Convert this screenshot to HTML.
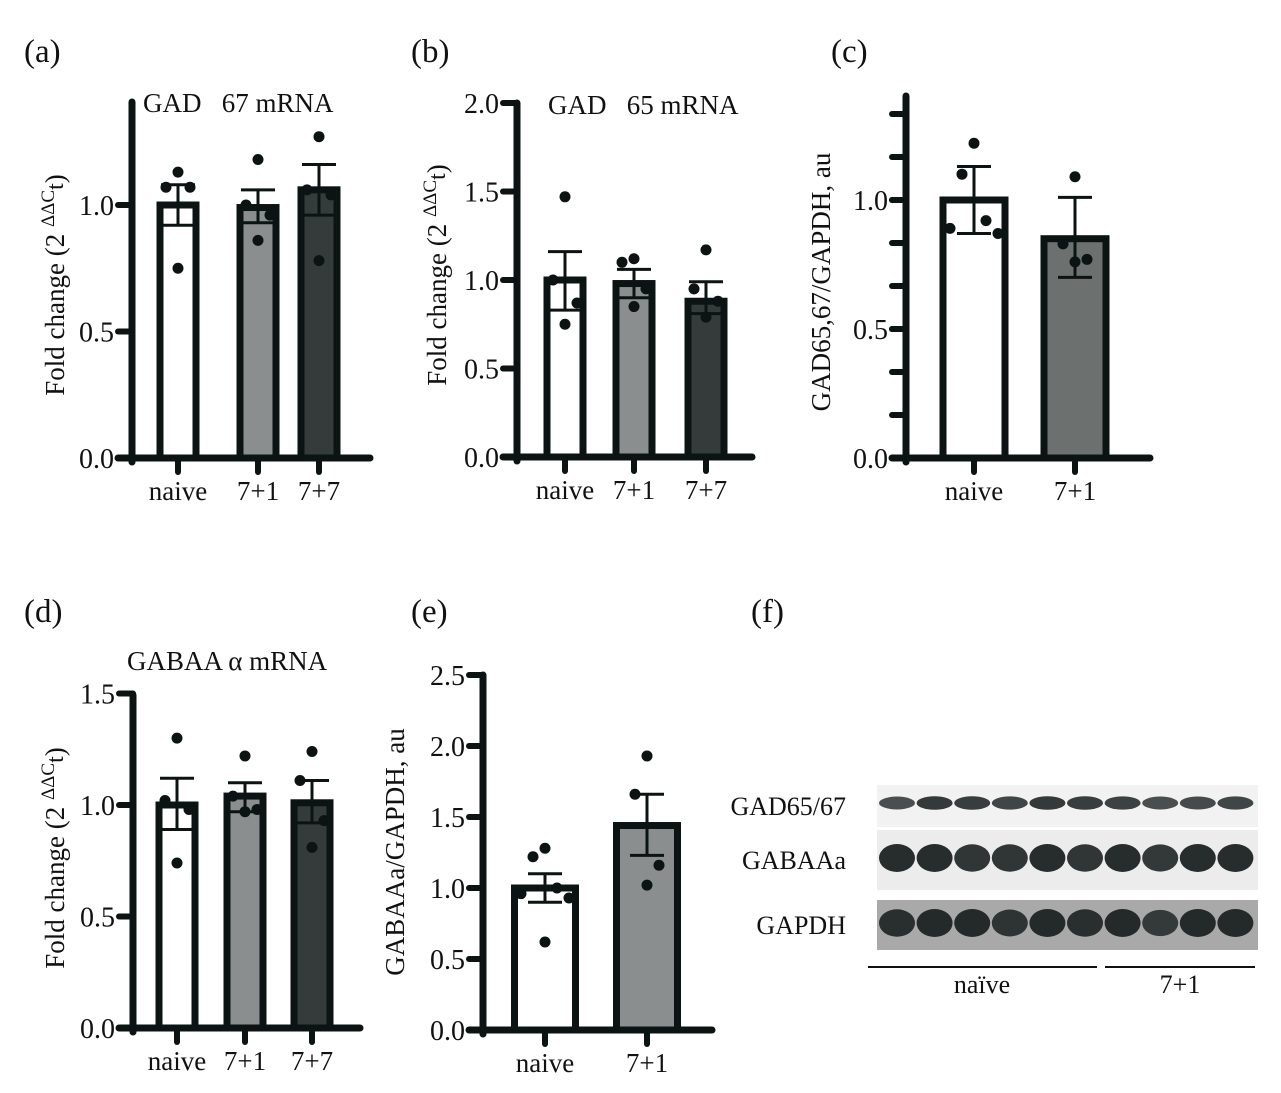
<!DOCTYPE html>
<html><head><meta charset="utf-8"><style>
html,body{margin:0;padding:0;background:#fff;width:1281px;height:1093px;overflow:hidden}
svg{display:block}
text{font-family:"Liberation Serif",serif;fill:#111}
</style></head><body>
<svg id="fig" width="1281" height="1093" viewBox="0 0 1281 1093"></svg>
<script>
// ---- data ----
const catsA=["naive","7+1","7+7"];
const meansA=[1.0,0.99,1.06];
const errLoA=[0.92,0.93,0.96];
const errHiA=[1.08,1.06,1.16];
const ptsA=[[1.13,1.07,1.07,0.75],[1.18,1.0,0.96,0.86],[1.27,1.06,1.04,0.78]];
const ticksA=[0,0.5,1.0];

const catsB=["naive","7+1","7+7"];
const meansB=[1.0,0.98,0.88];
const errLoB=[0.83,0.90,0.81];
const errHiB=[1.16,1.06,0.99];
const ptsB=[[1.47,1.0,0.87,0.75],[1.12,1.1,0.95,0.85],[1.17,0.95,0.88,0.79]];
const ticksB=[0,0.5,1.0,1.5,2.0];

const catsC=["naive","7+1"];
const meansC=[1.0,0.85];
const errLoC=[0.87,0.70];
const errHiC=[1.13,1.01];
const ptsC=[[1.22,1.10,0.92,0.89,0.87],[1.09,0.83,0.77,0.76]];
const ticksC=[0,0.5,1.0];

const catsD=["naive","7+1","7+7"];
const meansD=[1.0,1.04,1.01];
const errLoD=[0.89,0.97,0.92];
const errHiD=[1.12,1.10,1.11];
const ptsD=[[1.30,1.02,0.98,0.74],[1.22,1.04,0.98,0.97],[1.24,1.11,0.93,0.81]];
const ticksD=[0,0.5,1.0,1.5];

const catsE=["naive","7+1"];
const meansE=[1.0,1.44];
const errLoE=[0.90,1.23];
const errHiE=[1.10,1.66];
const ptsE=[[1.28,1.22,1.0,0.96,0.93,0.62],[1.93,1.66,1.16,1.02]];
const ticksE=[0,0.5,1.0,1.5,2.0,2.5];

const NS="http://www.w3.org/2000/svg";
const svg=document.getElementById('fig');
function el(tag,attrs,parent,txt){const e=document.createElementNS(NS,tag);for(const k in attrs)e.setAttribute(k,attrs[k]);if(txt!==undefined)e.textContent=txt;(parent||svg).appendChild(e);return e;}

function panel(cfg){
  const g=el('g',{});
  
  
  const y=v=>cfg.y0-(v-0)*cfg.unit;
  const ink='#0b1412';
  const ya=el('line',{x1:cfg.ax,y1:cfg.y0+4,x2:cfg.ax,y2:cfg.top,stroke:ink,'stroke-width':7,'stroke-linecap':'round'},g);
  
  
  if(cfg.minor){for(let v=cfg.minor;y(v)>cfg.top+5;v+=cfg.minor){el('line',{x1:cfg.ax-14,y1:y(v),x2:cfg.ax,y2:y(v),stroke:ink,'stroke-width':6,'stroke-linecap':'round'},g);}}
  cfg.ticks.forEach(t=>{
    el('line',{x1:cfg.ax-14,y1:y(t),x2:cfg.ax,y2:y(t),stroke:ink,'stroke-width':6,'stroke-linecap':'round'},g);
    const tl=el('text',{x:cfg.ax-18,y:y(t)+10,'text-anchor':'end','font-size':28},g,t.toFixed(1));
    
    
  });
  cfg.cats.forEach((c,i)=>{
    const cx=cfg.cx[i],w=cfg.bw;
    const b=el('rect',{x:cx-w/2,y:y(cfg.means[i]),width:w,height:cfg.y0-y(cfg.means[i]),fill:cfg.fills[i],stroke:ink,'stroke-width':7},g);
    
    
    const eb=el('path',{d:`M${cx},${y(cfg.lo[i])}V${y(cfg.hi[i])}M${cx-17},${y(cfg.lo[i])}h34M${cx-17},${y(cfg.hi[i])}h34`,stroke:ink,'stroke-width':3,fill:'none'},g);
    
    
    const offs=cfg.pts[i].length>=5?[0,-12,12,-24,24,0]:[0,-12,12,0];
    cfg.pts[i].forEach((p,j)=>{
      const d=el('circle',{cx:cx+offs[j%offs.length],cy:y(p),r:5.5,fill:ink},g);
      
      
    });
    el('line',{x1:cx,y1:cfg.y0,x2:cx,y2:cfg.y0+14,stroke:ink,'stroke-width':6,'stroke-linecap':'round'},g);
    const xl=el('text',{x:cx,y:cfg.y0+42,'text-anchor':'middle','font-size':27},g,c);
    
    
  });
  const xa=el('line',{x1:cfg.ax-14,y1:cfg.y0,x2:cfg.xend,y2:cfg.y0,stroke:ink,'stroke-width':7,'stroke-linecap':'round'},g);
  
  
  const yt=el('text',{x:0,y:0,'text-anchor':'middle','font-size':27,transform:`translate(${cfg.ytx},${cfg.yty}) rotate(-90)`},g);
  
  
  if(cfg.ddct){
    yt.textContent='Fold change (2 ';
    el('tspan',{dy:-10,'font-size':19},yt,'ΔΔC');
    el('tspan',{dy:9,'font-size':24},yt,'t');
    el('tspan',{dy:1},yt,')');
  } else yt.textContent=cfg.ytitle;
  if(cfg.title){const t=el('text',{x:cfg.tx,y:cfg.ty,'font-size':27},g,cfg.title);
    
    }
  const L=el('text',{x:cfg.lx,y:cfg.ly,'font-size':33},g,cfg.letter);
  
  
}

panel({name:'panel-a',letter:'(a)',lx:24,ly:62,ax:132,y0:458,unit:253,top:102,xend:370,cats:catsA,means:meansA,lo:errLoA,hi:errHiA,pts:ptsA,ticks:ticksA,cx:[178,258,319],bw:36,fills:['#fff','#8a8e8e','#353b3a'],ddct:true,ytx:64,yty:285,title:'GAD\u00a0\u00a0 67 mRNA',tx:143,ty:112});
panel({name:'panel-b',letter:'(b)',lx:411,ly:62,ax:517,y0:457,unit:177,top:103,xend:752,cats:catsB,means:meansB,lo:errLoB,hi:errHiB,pts:ptsB,ticks:ticksB,cx:[565,634,706],bw:36,fills:['#fff','#8a8e8e','#353b3a'],ddct:true,ytx:446,yty:275,title:'GAD\u00a0\u00a0 65 mRNA',tx:548,ty:114});
panel({name:'panel-c',letter:'(c)',lx:831,ly:62,ax:906,y0:458,unit:258,top:96,xend:1150,minor:1/6,cats:catsC,means:meansC,lo:errLoC,hi:errHiC,pts:ptsC,ticks:ticksC,cx:[974,1075],bw:62,fills:['#fff','#6c7170'],ytitle:'GAD65,67/GAPDH, au',ytx:830,yty:282});
panel({name:'panel-d',letter:'(d)',lx:24,ly:622,ax:133,y0:1028,unit:223,top:695,xend:360,cats:catsD,means:meansD,lo:errLoD,hi:errHiD,pts:ptsD,ticks:ticksD,cx:[177,245,312],bw:36,fills:['#fff','#8a8e8e','#353b3a'],ddct:true,ytx:64,yty:858,title:'GABAA α mRNA',tx:127,ty:670});
panel({name:'panel-e',letter:'(e)',lx:411,ly:622,ax:483,y0:1030,unit:142,top:675,xend:712,cats:catsE,means:meansE,lo:errLoE,hi:errHiE,pts:ptsE,ticks:ticksE,cx:[545,647],bw:61,fills:['#fff','#8a8e8e'],ytitle:'GABAAa/GAPDH, au',ytx:404,yty:852});

// ---- panel f: western blot ----
const blotRows=["GAD65/67","GABAAa","GAPDH"];
const laneIntensity=[[0.6,0.85,0.8,0.7,0.85,0.8,0.75,0.6,0.65,0.7],[1,1,0.9,0.9,1,0.9,1,0.85,1,1],[0.9,1,1,0.8,1,0.9,1,0.7,1,1]];
const gF=el('g',{});


const lf=el('text',{x:751,y:622,'font-size':33},gF,'(f)');


const strips=[{y:785,h:42,bg:'#f2f2f2',bh:14},{y:830,h:60,bg:'#ececec',bh:28},{y:900,h:50,bg:'#a9a9a9',bh:28}];
blotRows.forEach((r,i)=>{
  const s=strips[i];
  el('rect',{x:877,y:s.y,width:381,height:s.h,fill:s.bg},gF);
  laneIntensity[i].forEach((v,j)=>{
    const cx=897+j*37.6;
    const band=el('ellipse',{cx:cx,cy:s.y+s.h/2-(i==0?3:2),rx:18,ry:s.bh/2*(0.8+0.2*v),fill:'#1c2322','fill-opacity':0.55+0.4*v},gF);
    
    
  });
  const t=el('text',{x:846,y:s.y+s.h/2+9,'text-anchor':'end','font-size':26},gF,r);
  
  
});
el('line',{x1:868,y1:967,x2:1097,y2:967,stroke:'#111','stroke-width':2},gF);
el('line',{x1:1105,y1:967,x2:1255,y2:967,stroke:'#111','stroke-width':2},gF);
const g1=el('text',{x:982,y:993,'text-anchor':'middle','font-size':26},gF,'naïve');


const g2=el('text',{x:1180,y:993,'text-anchor':'middle','font-size':26},gF,'7+1');


</script>
</body></html>
